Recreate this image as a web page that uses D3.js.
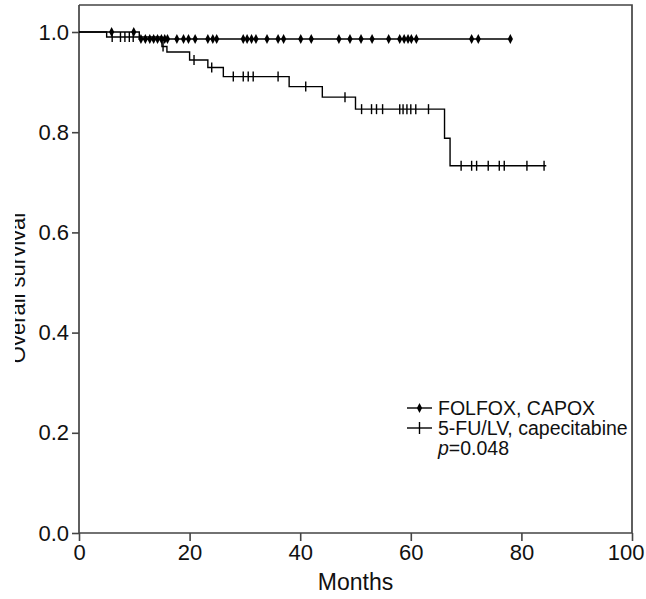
<!DOCTYPE html>
<html><head><meta charset="utf-8">
<script src="https://cdn.jsdelivr.net/npm/d3@7/dist/d3.min.js"></script>
<style>body{margin:0;background:#fff}svg{display:block}</style>
</head><body>
<svg id="c" width="646" height="599"></svg>
<script>
// ---- data ----
const xTicks = [0, 20, 40, 60, 80, 100];
const yTicks = [0.0, 0.2, 0.4, 0.6, 0.8, 1.0];
const seriesNames = ["FOLFOX, CAPOX", "5-FU/LV, capecitabine"];
const pText = "=0.048";
// FOLFOX, CAPOX: step times / survival, last follow-up
const folfoxTimes = [0, 10.9];
const folfoxSurv = [1.0, 0.986];
const folfoxEnd = 78;
const folfoxCensor = [5.9, 9.9, 11.2, 12.0, 12.8, 13.5, 14.2, 14.9, 15.5, 16.0, 17.7, 18.9, 19.8, 21.0,
  23.3, 24.2, 24.9, 29.7, 30.4, 31.2, 32.0, 34.0, 36.0, 37.0, 40.1, 42.0, 47.0, 49.0, 51.0, 53.0,
  56.0, 58.0, 58.8, 59.5, 60.1, 61.0, 71.0, 72.2, 78.0];
// 5-FU/LV, capecitabine
const fuTimes = [0, 5.0, 15.0, 15.9, 20.0, 23.3, 26.1, 38.0, 44.0, 50.0, 66.1, 67.1];
const fuSurv = [1.0, 0.990, 0.971, 0.960, 0.944, 0.929, 0.911, 0.891, 0.870, 0.846, 0.788, 0.733];
const fuEnd = 84.5;
const fuCensor = [6.0, 7.5, 8.3, 9.1, 9.8, 15.2, 20.8, 24.0, 27.9, 29.7, 30.6, 31.5, 36.0, 41.0, 48.1,
  51.1, 52.9, 53.8, 54.9, 58.0, 58.6, 59.3, 60.0, 60.9, 63.2, 69.1, 71.0, 71.9, 74.0, 76.0, 76.9, 81.0, 84.1];

// ---- chart ----
const svg = d3.select("#c");
const x = d3.scaleLinear().domain([0, 100]).range([79, 632]);
const y = d3.scaleLinear().domain([0, 1]).range([533, 32]);
const axisCol = "#444";

// frame (top and right)
svg.append("path").attr("d", `M${x(0)},5H${x(100)}V${y(0)}`)
  .attr("fill", "none").attr("stroke", axisCol).attr("stroke-width", 1.7);

const fontFam = "'Liberation Sans', Arial, sans-serif";
const xAxis = svg.append("g").attr("transform", `translate(0,${y(0)})`)
  .call(d3.axisBottom(x).tickValues(xTicks).tickSize(8).tickPadding(3).tickFormat(d3.format("d")));
const yAxis = svg.append("g").attr("transform", `translate(${x(0)},0)`)
  .call(d3.axisLeft(y).tickValues(yTicks).tickSize(7).tickPadding(3).tickFormat(d3.format(".1f")));
[xAxis, yAxis].forEach(g => {
  g.select(".domain").remove();
  g.selectAll("line").attr("stroke", axisCol).attr("stroke-width", 1.6);
  g.selectAll("text").attr("fill", "#111").style("font-family", fontFam).style("font-size", "22px");
});
// last x label kept inside the picture, as in the reference
xAxis.selectAll(".tick").filter(d => d === 100).select("text")
  .attr("text-anchor", "end").attr("x", 644 - x(100));
// axis lines (y axis extends to the top frame)
svg.append("path").attr("d", `M${x(0)},5V${y(0)}H${x(100)}`)
  .attr("fill", "none").attr("stroke", axisCol).attr("stroke-width", 1.7);

// axis titles
svg.append("text").attr("x", (x(0) + x(100)) / 2).attr("y", 590).attr("text-anchor", "middle")
  .style("font-family", fontFam).style("font-size", "23px").attr("fill", "#111").text("Months");
svg.append("clipPath").attr("id", "lclip").append("rect").attr("x", 15).attr("y", 0).attr("width", 60).attr("height", 599);
svg.append("g").attr("clip-path", "url(#lclip)")
  .append("text").attr("transform", `translate(25,288) rotate(-90)`).attr("text-anchor", "middle")
  .style("font-family", fontFam).style("font-size", "22px").attr("fill", "#111").text("Overall survival");

// curves
function stepPts(times, surv, end) {
  const pts = times.map((t, i) => [t, surv[i]]);
  pts.push([end, surv[surv.length - 1]]);
  return pts;
}
function survAt(times, surv, t) {
  let s = surv[0];
  for (let i = 0; i < times.length; i++) if (times[i] <= t) s = surv[i];
  return s;
}
const line = d3.line().x(d => x(d[0])).y(d => y(d[1])).curve(d3.curveStepAfter);
svg.append("path").datum(stepPts(folfoxTimes, folfoxSurv, folfoxEnd)).attr("d", line)
  .attr("fill", "none").attr("stroke", "#000").attr("stroke-width", 1.4);
svg.append("path").datum(stepPts(fuTimes, fuSurv, fuEnd)).attr("d", line)
  .attr("fill", "none").attr("stroke", "#000").attr("stroke-width", 1.4);

const diamond = "M0,-5L2.6,0L0,5L-2.6,0Z";
svg.append("g").selectAll("path").data(folfoxCensor).join("path")
  .attr("transform", t => `translate(${x(t)},${y(survAt(folfoxTimes, folfoxSurv, t))})`)
  .attr("d", diamond).attr("fill", "#000");
svg.append("g").selectAll("path").data(fuCensor).join("path")
  .attr("transform", t => `translate(${x(t)},${y(survAt(fuTimes, fuSurv, t))})`)
  .attr("d", "M0,-5V5").attr("stroke", "#000").attr("stroke-width", 1.4);

// legend
const lg = svg.append("g").style("font-family", fontFam).style("font-size", "19.5px").attr("fill", "#111");
const lx = 407, ly = [408, 428];
seriesNames.forEach((n, i) => {
  lg.append("line").attr("x1", lx).attr("x2", lx + 25).attr("y1", ly[i]).attr("y2", ly[i])
    .attr("stroke", "#000").attr("stroke-width", 1.4);
  if (i === 0) lg.append("path").attr("transform", `translate(${lx + 12.5},${ly[i]})`).attr("d", diamond).attr("fill", "#000");
  else lg.append("path").attr("transform", `translate(${lx + 12.5},${ly[i]})`).attr("d", "M0,-6V6").attr("stroke", "#000").attr("stroke-width", 1.4);
  lg.append("text").attr("x", lx + 31).attr("y", ly[i]).attr("dy", "0.35em").text(n);
});
const pt = lg.append("text").attr("x", lx + 31).attr("y", 448).attr("dy", "0.35em");
pt.append("tspan").style("font-style", "italic").text("p");
pt.append("tspan").text(pText);
</script>
</body></html>
